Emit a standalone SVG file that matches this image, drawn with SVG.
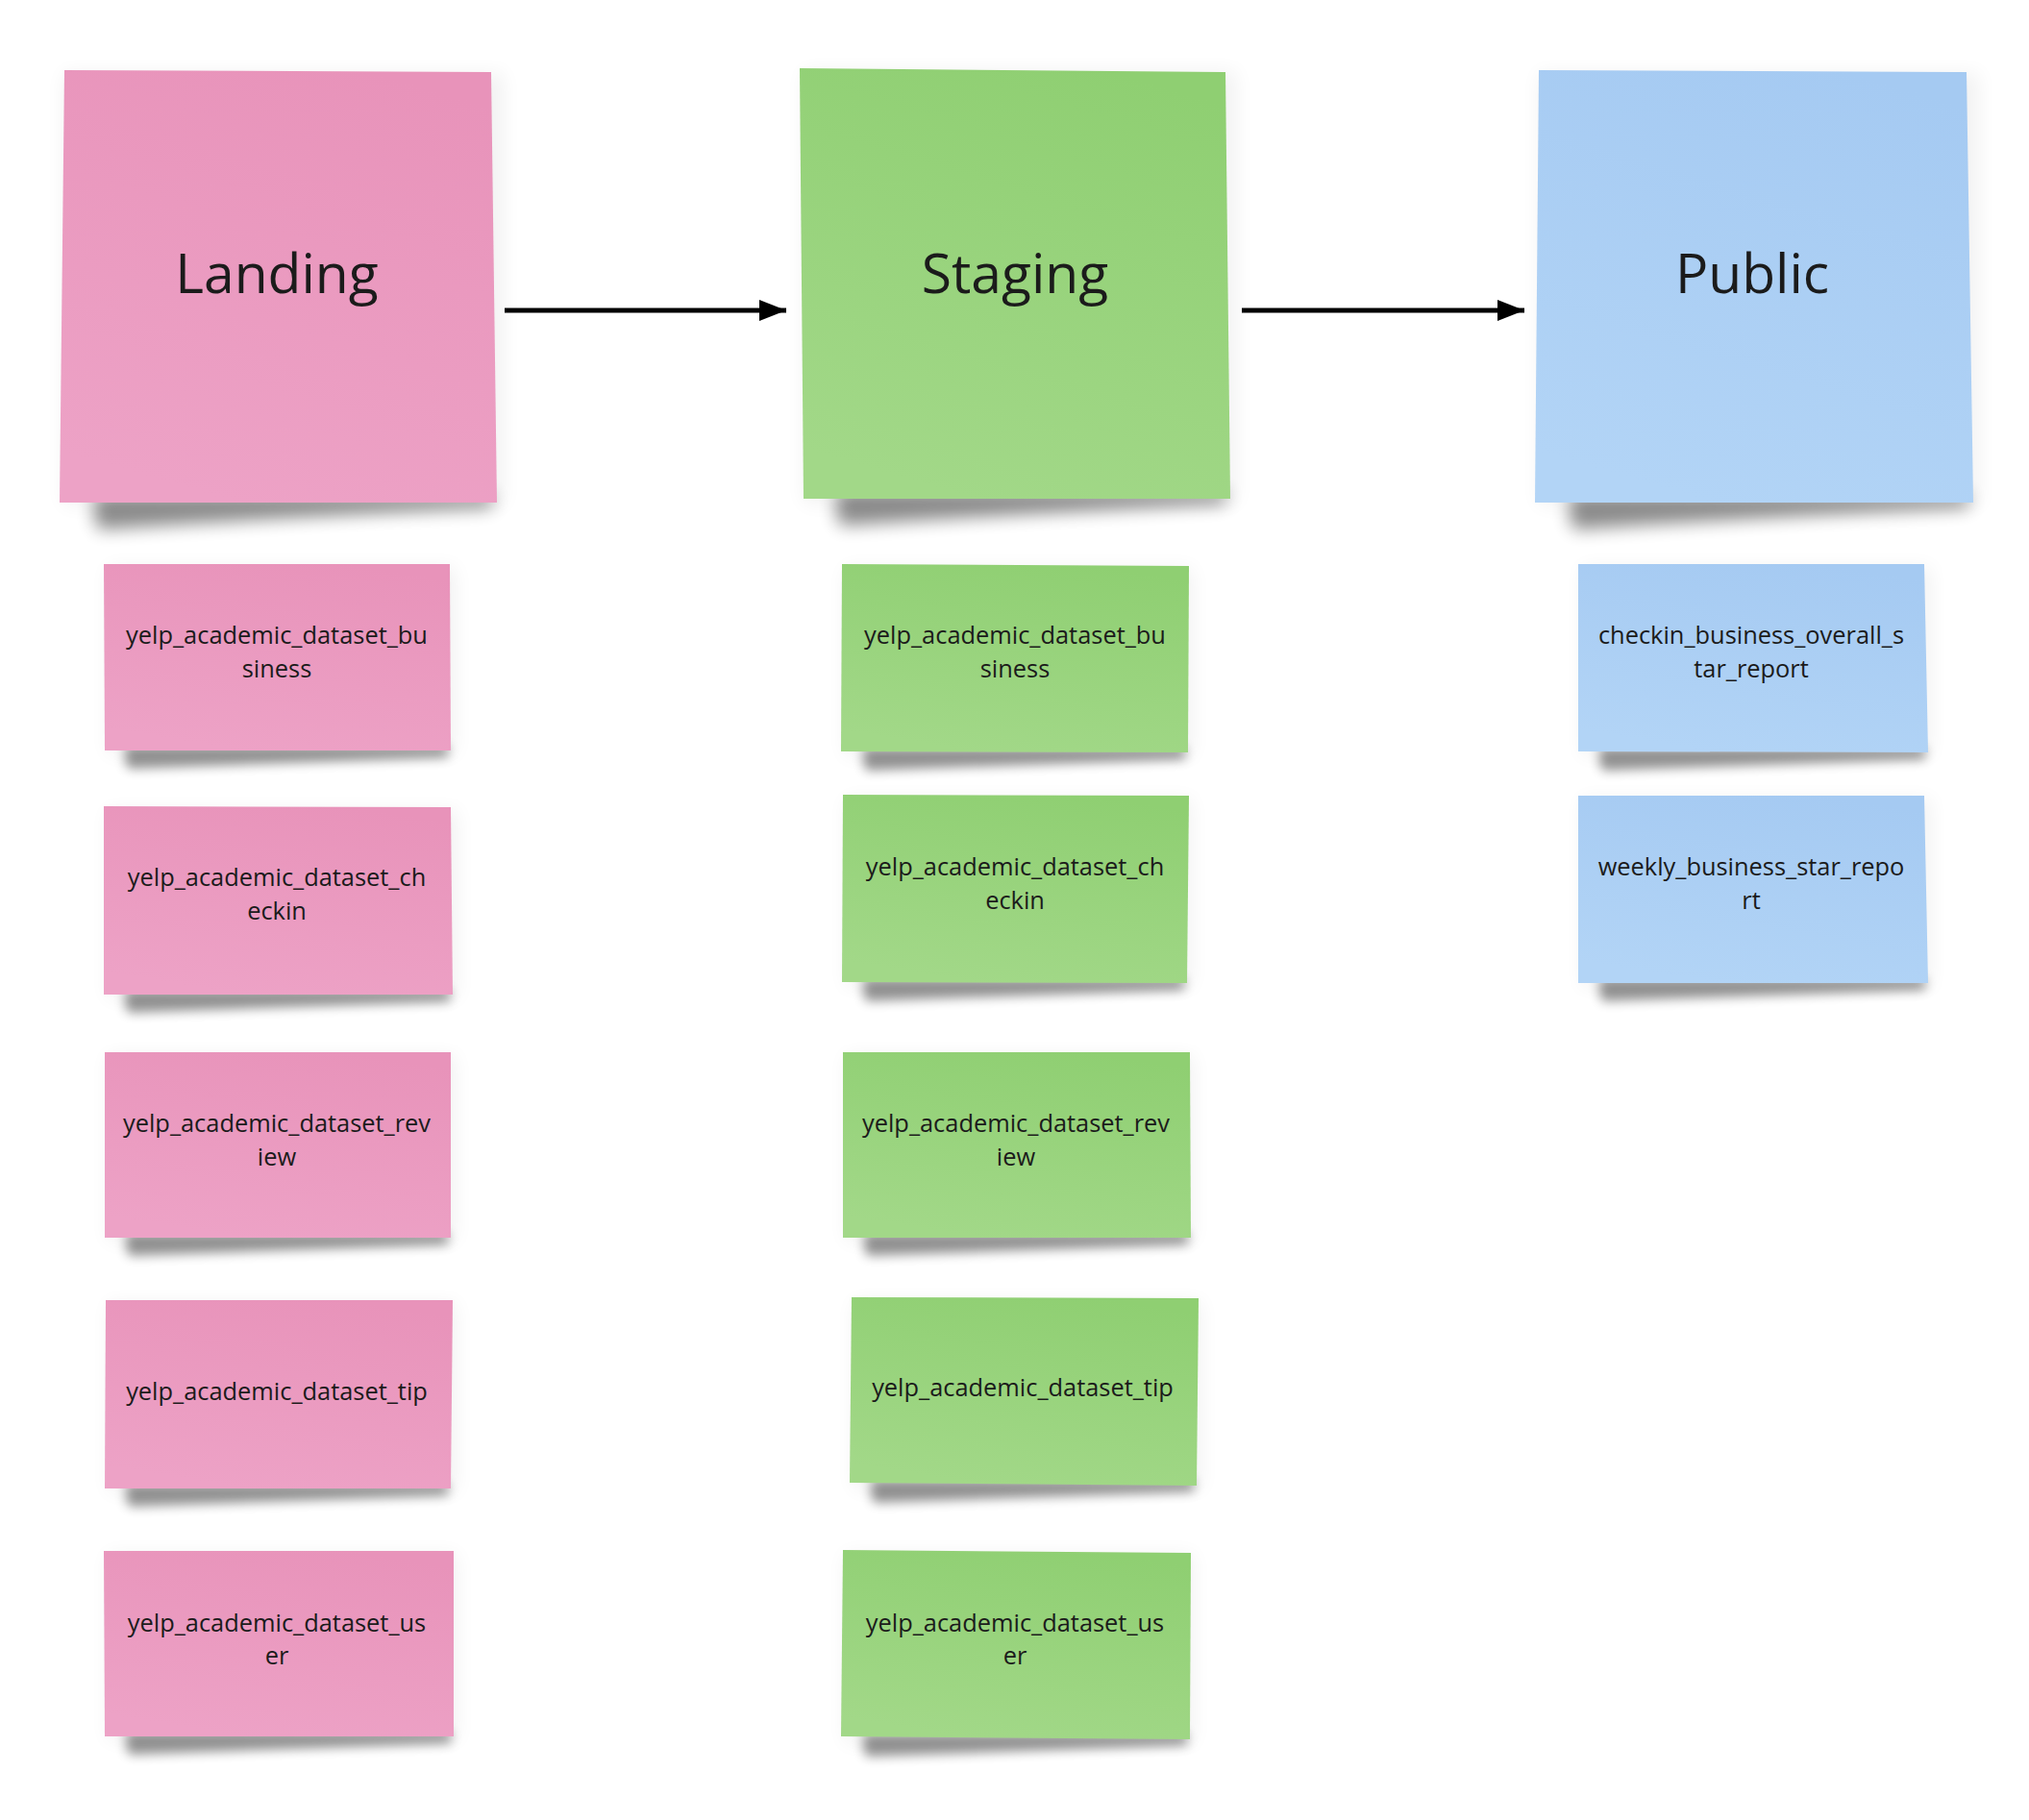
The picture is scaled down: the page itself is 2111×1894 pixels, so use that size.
<svg xmlns="http://www.w3.org/2000/svg" width="2111" height="1894" viewBox="0 0 2111 1894">
<style>
.title{font-family:"Open Sans","Noto Sans","Liberation Sans",sans-serif;font-size:57px;fill:#1b1b1b;text-anchor:middle}
.lbl{font-family:"Open Sans","Noto Sans","Liberation Sans",sans-serif;font-size:25.4px;fill:#1b1b1b;text-anchor:middle}
.pink{fill:url(#gPink)}
.green{fill:url(#gGreen)}
.blue{fill:url(#gBlue)}
.shB{fill:#000;opacity:0.45;filter:url(#blurB)}
.shS{fill:#000;opacity:0.42;filter:url(#blurS)}
.halo{fill:#000;opacity:0.05;filter:url(#blurH)}
.conn{stroke:#000;stroke-width:5;fill:none;marker-end:url(#arrow)}
</style>
<defs>
<linearGradient id="gPink" x1="0.7" y1="0" x2="0.4" y2="1">
<stop offset="0" stop-color="#E893BA"/><stop offset="1" stop-color="#EDA2C6"/>
</linearGradient>
<linearGradient id="gGreen" x1="0.7" y1="0" x2="0.4" y2="1">
<stop offset="0" stop-color="#8FCF72"/><stop offset="1" stop-color="#A2D888"/>
</linearGradient>
<linearGradient id="gBlue" x1="0.7" y1="0" x2="0.4" y2="1">
<stop offset="0" stop-color="#A5CAF2"/><stop offset="1" stop-color="#B2D4F6"/>
</linearGradient>
<filter id="blurB" x="-20%" y="-200%" width="140%" height="500%"><feGaussianBlur stdDeviation="9"/></filter>
<filter id="blurS" x="-20%" y="-200%" width="140%" height="500%"><feGaussianBlur stdDeviation="6"/></filter>
<filter id="blurH" x="-20%" y="-20%" width="140%" height="140%"><feGaussianBlur stdDeviation="10"/></filter>
<marker id="arrow" markerUnits="userSpaceOnUse" markerWidth="28" markerHeight="22" refX="28" refY="11" orient="auto">
<path d="M0,0 L28,11 L0,22 z" fill="#000"/>
</marker>
</defs>
<rect width="2111" height="1894" fill="#ffffff"/>

<g id="connectors">
<line class="conn" x1="525" y1="323" x2="818" y2="323"/>
<line class="conn" x1="1292" y1="323" x2="1586" y2="323"/>
</g>

<g id="landing">
<rect class="halo" x="66" y="76" width="458" height="450"/>
<path class="shB" d="M100,515 L512,515 L512,528 Q300,538 104,551 Q94,540 100,515 Z"/>
<polygon class="pink" points="67,73 511,75 517,523 62,523"/>
<text class="title" x="288" y="305">Landing</text>
</g>
<g id="staging">
<rect class="halo" x="836" y="74" width="450" height="450"/>
<path class="shB" d="M872,511 L1275,511 L1275,524 Q1070,534 876,547 Q866,536 872,511 Z"/>
<polygon class="green" points="832,71 1275,75 1280,519 836,519"/>
<text class="title" x="1056" y="305">Staging</text>
</g>
<g id="public">
<rect class="halo" x="1601" y="76" width="458" height="450"/>
<path class="shB" d="M1635,515 L2048,515 L2048,528 Q1836,538 1639,551 Q1629,540 1635,515 Z"/>
<polygon class="blue" points="1601,73 2046,75 2053,523 1597,523"/>
<text class="title" x="1823" y="305">Public</text>
</g>

<g id="landing_business">
<rect class="halo" x="112" y="590" width="362" height="195"/>
<path class="shS" d="M132,776 L466,776 L466,788 Q300,794 134,800 Q127,790 132,776 Z"/>
<polygon class="pink" points="108,587 468,587 469,781 109,781"/>
<text class="lbl" x="288" y="670">yelp_academic_dataset_bu</text>
<text class="lbl" x="288" y="705">siness</text>
</g>
<g id="landing_checkin">
<rect class="halo" x="112" y="843" width="364" height="196"/>
<path class="shS" d="M132,1030 L468,1030 L468,1042 Q300,1048 134,1054 Q127,1044 132,1030 Z"/>
<polygon class="pink" points="108,839 469,840 471,1035 108,1035"/>
<text class="lbl" x="288" y="922">yelp_academic_dataset_ch</text>
<text class="lbl" x="288" y="957">eckin</text>
</g>
<g id="landing_review">
<rect class="halo" x="112" y="1098" width="362" height="194"/>
<path class="shS" d="M133,1283 L466,1283 L466,1295 Q300,1301 135,1307 Q128,1297 133,1283 Z"/>
<polygon class="pink" points="109,1095 469,1095 469,1288 109,1288"/>
<text class="lbl" x="288" y="1178">yelp_academic_dataset_rev</text>
<text class="lbl" x="288" y="1213">iew</text>
</g>
<g id="landing_tip">
<rect class="halo" x="113" y="1356" width="362" height="197"/>
<path class="shS" d="M133,1544 L466,1544 L466,1556 Q300,1562 135,1568 Q128,1558 133,1544 Z"/>
<polygon class="pink" points="110,1353 471,1353 469,1549 109,1549"/>
<text class="lbl" x="288" y="1457">yelp_academic_dataset_tip</text>
</g>
<g id="landing_user">
<rect class="halo" x="112" y="1617" width="364" height="194"/>
<path class="shS" d="M133,1802 L469,1802 L469,1814 Q300,1820 135,1826 Q128,1816 133,1802 Z"/>
<polygon class="pink" points="108,1614 472,1614 472,1807 109,1807"/>
<text class="lbl" x="288" y="1698">yelp_academic_dataset_us</text>
<text class="lbl" x="288" y="1732">er</text>
</g>

<g id="staging_business">
<rect class="halo" x="879" y="591" width="362" height="196"/>
<path class="shS" d="M900,778 L1233,778 L1233,790 Q1066,796 902,802 Q895,792 900,778 Z"/>
<polygon class="green" points="876,587 1237,589 1236,783 875,782"/>
<text class="lbl" x="1056" y="670">yelp_academic_dataset_bu</text>
<text class="lbl" x="1056" y="705">siness</text>
</g>
<g id="staging_checkin">
<rect class="halo" x="880" y="831" width="360" height="196"/>
<path class="shS" d="M900,1018 L1232,1018 L1232,1030 Q1066,1036 902,1042 Q895,1032 900,1018 Z"/>
<polygon class="green" points="877,827 1237,828 1235,1023 876,1022"/>
<text class="lbl" x="1056" y="911">yelp_academic_dataset_ch</text>
<text class="lbl" x="1056" y="946">eckin</text>
</g>
<g id="staging_review">
<rect class="halo" x="880" y="1098" width="362" height="194"/>
<path class="shS" d="M901,1283 L1236,1283 L1236,1295 Q1067,1301 903,1307 Q896,1297 901,1283 Z"/>
<polygon class="green" points="877,1095 1238,1095 1239,1288 877,1288"/>
<text class="lbl" x="1057" y="1178">yelp_academic_dataset_rev</text>
<text class="lbl" x="1057" y="1213">iew</text>
</g>
<g id="staging_tip">
<rect class="halo" x="888" y="1354" width="362" height="196"/>
<path class="shS" d="M908,1540 L1242,1540 L1242,1552 Q1075,1558 910,1564 Q903,1554 908,1540 Z"/>
<polygon class="green" points="886,1350 1247,1351 1245,1546 884,1543"/>
<text class="lbl" x="1064" y="1453">yelp_academic_dataset_tip</text>
</g>
<g id="staging_user">
<rect class="halo" x="879" y="1617" width="363" height="197"/>
<path class="shS" d="M900,1804 L1235,1804 L1235,1816 Q1067,1822 902,1828 Q895,1818 900,1804 Z"/>
<polygon class="green" points="877,1613 1239,1616 1238,1810 875,1807"/>
<text class="lbl" x="1056" y="1698">yelp_academic_dataset_us</text>
<text class="lbl" x="1056" y="1732">er</text>
</g>

<g id="public_checkin_report">
<rect class="halo" x="1646" y="590" width="363" height="196"/>
<path class="shS" d="M1666,778 L2003,778 L2003,790 Q1833,796 1668,802 Q1661,792 1666,778 Z"/>
<polygon class="blue" points="1642,587 2002,587 2006,783 1642,782"/>
<text class="lbl" x="1822" y="670">checkin_business_overall_s</text>
<text class="lbl" x="1822" y="705">tar_report</text>
</g>
<g id="public_weekly_report">
<rect class="halo" x="1646" y="831" width="363" height="196"/>
<path class="shS" d="M1666,1018 L2003,1018 L2003,1030 Q1833,1036 1668,1042 Q1661,1032 1666,1018 Z"/>
<polygon class="blue" points="1642,828 2002,828 2006,1023 1642,1023"/>
<text class="lbl" x="1822" y="911">weekly_business_star_repo</text>
<text class="lbl" x="1822" y="946">rt</text>
</g>
</svg>
